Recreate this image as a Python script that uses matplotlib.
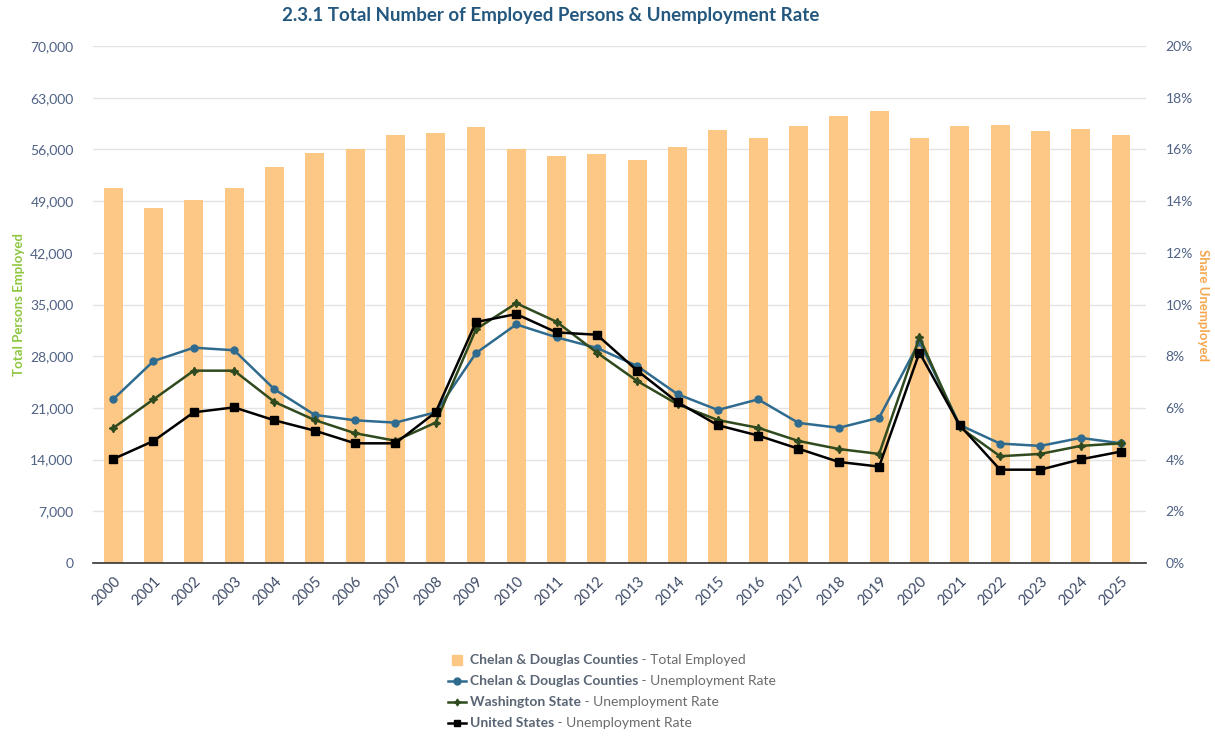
import matplotlib
matplotlib.use("Agg")
import matplotlib.pyplot as plt
from matplotlib.lines import Line2D
from matplotlib.patches import Rectangle
from matplotlib.ticker import FuncFormatter, MultipleLocator

plt.rcParams['font.family'] = ['Lato', 'DejaVu Sans']

years = [str(y) for y in range(2000, 2026)]
total_employed = [50800, 48100, 49200, 50800, 53650, 55550, 56100, 58000, 58250, 58980,
                  56100, 55150, 55420, 54600, 56370, 58670, 57580, 59110, 60470, 61240,
                  57580, 59110, 59250, 58530, 58800, 57900]
chelan_rate = [6.33, 7.81, 8.33, 8.23, 6.72, 5.73, 5.52, 5.43, 5.83, 8.12,
               9.23, 8.73, 8.32, 7.62, 6.53, 5.92, 6.33, 5.42, 5.23, 5.62,
               8.56, 5.34, 4.62, 4.53, 4.84, 4.63]
wa_rate = [5.22, 6.33, 7.44, 7.44, 6.23, 5.53, 5.02, 4.73, 5.43, 9.04,
           10.05, 9.33, 8.14, 7.04, 6.14, 5.53, 5.23, 4.72, 4.41, 4.22,
           8.73, 5.25, 4.13, 4.22, 4.53, 4.63]
us_rate = [4.02, 4.72, 5.83, 6.02, 5.52, 5.12, 4.63, 4.63, 5.83, 9.32,
           9.63, 8.92, 8.83, 7.44, 6.22, 5.33, 4.93, 4.42, 3.91, 3.73,
           8.14, 5.33, 3.61, 3.61, 4.01, 4.31]

title = "2.3.1 Total Number of Employed Persons & Unemployment Rate"
legend_bold = ["Chelan & Douglas Counties", "Chelan & Douglas Counties",
               "Washington State", "United States"]
legend_reg = [" - Total Employed", " - Unemployment Rate",
              " - Unemployment Rate", " - Unemployment Rate"]

BAR = '#FDC886'
BLUE = '#2F6B8F'
GREEN = '#2F4A1E'
BLACK = '#000000'
TICK = '#4f6185'

W, H = 1215, 737
fig = plt.figure(figsize=(W / 100, H / 100), dpi=100)
L, R, B, T = 93, 1146, 563, 46
ax = fig.add_axes([L / W, 1 - B / H, (R - L) / W, (B - T) / H])
ax2 = ax.twinx()

x = list(range(len(years)))
ax.bar(x, total_employed, width=0.47, color=BAR, zorder=2)
ax.set_ylim(0, 70000)
ax.yaxis.set_major_locator(MultipleLocator(7000))
ax.yaxis.set_major_formatter(FuncFormatter(lambda v, p: f"{int(v):,}"))
ax.set_xlim(-0.5, 25.62)
ax.set_xticks(x)
ax.set_xticklabels(years, rotation=45, ha='right', rotation_mode='anchor')
ax.grid(axis='y', color='#E3E3E3', linewidth=1, zorder=0)
ax.set_axisbelow(True)
for s in ['top', 'right', 'left']:
    ax.spines[s].set_visible(False)
ax.spines['bottom'].set_color('#333333')
ax.spines['bottom'].set_linewidth(1.2)
ax.tick_params(axis='y', length=0, pad=14, labelsize=10, labelcolor=TICK)
ax.tick_params(axis='x', length=0, pad=8, labelsize=10.5, labelcolor='#3d4a66')

ax2.plot(x, chelan_rate, color=BLUE, lw=1.8, marker='o', ms=5, zorder=3)
ax2.plot(x, wa_rate, color=GREEN, lw=1.8, marker=(4, 1, 0), ms=6, zorder=4)
ax2.plot(x, us_rate, color=BLACK, lw=1.8, marker='s', ms=5.5, zorder=5)
ax2.set_ylim(0, 20)
ax2.yaxis.set_major_locator(MultipleLocator(2))
ax2.yaxis.set_major_formatter(FuncFormatter(lambda v, p: f"{int(v)}%"))
for s in ['top', 'right', 'left', 'bottom']:
    ax2.spines[s].set_visible(False)
ax2.tick_params(axis='y', length=0, pad=14, labelsize=10, labelcolor=TICK)

fig.text(19 / W, 1 - 305 / H, "Total Persons Employed", rotation=90, ha='center', va='center',
         color='#8DC63F', fontsize=9.5, fontweight='bold')
fig.text(1203 / W, 1 - 305 / H, "Share Unemployed", rotation=270, ha='center', va='center',
         color='#F5A74D', fontsize=9.5, fontweight='bold')
fig.text(551 / W, 1 - 16 / H, title, ha='center', va='center', color='#24587F',
         fontsize=13.5, fontweight='bold')

# legend
rows = [660, 681, 702, 723]
handles = [('bar', BAR), ('o', BLUE), ((4, 1, 0), GREEN), ('s', BLACK)]
fig.canvas.draw()
renderer = fig.canvas.get_renderer()
for (kind, col), yy, b, r in zip(handles, rows, legend_bold, legend_reg):
    yf = 1 - yy / H
    if kind == 'bar':
        fig.add_artist(Rectangle((452 / W, 1 - (yy + 5) / H), 10 / W, 10 / H,
                                 transform=fig.transFigure, color=col))
    else:
        fig.add_artist(Line2D([448 / W, 466 / W], [yf, yf], transform=fig.transFigure,
                              color=col, lw=1.8))
        fig.add_artist(Line2D([457 / W], [yf], transform=fig.transFigure, color=col,
                              marker=kind, ms=5))
    t = fig.text(470 / W, yf, b, ha='left', va='center', color='#5a6574',
                 fontsize=10, fontweight='bold')
    ext = t.get_window_extent(renderer=renderer)
    fig.text(ext.x1 / W, yf, r, ha='left', va='center', color='#6b6b6b', fontsize=10)

fig.savefig("out.png", dpi=100)
